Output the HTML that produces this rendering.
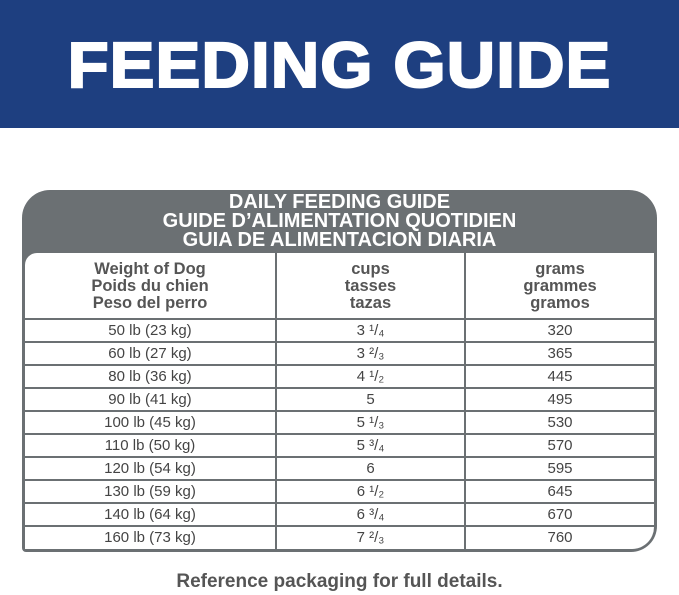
<!DOCTYPE html>
<html><head><style>
body{margin:0;width:679px;height:595px;background:#fff;position:relative;overflow:hidden;font-family:"Liberation Sans",Arial,sans-serif}
.hdr{position:absolute;left:0;top:0;width:679px;height:128px;background:#1e3f80}
.title{position:absolute;left:0;top:28px;width:679px;text-align:center;color:#fff;font-weight:900;font-size:64px;letter-spacing:1px;transform:scaleX(1.05);-webkit-text-stroke:2px #fff}
.box{position:absolute;left:22px;top:190px;width:635px;height:362px;background:#6b7073;border-radius:28px 28px 26px 4px}
.bt{position:absolute;left:0;width:635px;text-align:center;color:#fff;font-weight:bold;font-size:20px;line-height:19px}
.in{position:absolute;left:3px;top:63px;width:629px;height:296px;background:#fff;border-radius:12px 0 22px 0}
.v{position:absolute;top:0;width:2px;height:296px;background:#6b7073}
.h{position:absolute;left:0;width:629px;height:2px;background:#6b7073}
.c{position:absolute;text-align:center;color:#444;font-size:15px;line-height:23px}
.hd{position:absolute;text-align:center;color:#555;font-weight:bold;font-size:16.5px;line-height:17px}
.foot{position:absolute;left:0;top:571px;width:679px;text-align:center;color:#555;font-weight:bold;font-size:19px}
</style></head><body>
<div class="hdr"><div class="title">FEEDING GUIDE</div></div>
<div class="box">
<div class="bt" style="top:3px">DAILY FEEDING GUIDE</div>
<div class="bt" style="top:22px">GUIDE D’ALIMENTATION QUOTIDIEN</div>
<div class="bt" style="top:41px">GUIA DE ALIMENTACION DIARIA</div>
<div class="in">
<div class="v" style="left:250px"></div><div class="v" style="left:439px"></div>
<div class="hd" style="left:0;width:250px;top:8px">Weight of Dog<br>Poids du chien<br>Peso del perro</div>
<div class="hd" style="left:252px;width:187px;top:8px">cups<br>tasses<br>tazas</div>
<div class="hd" style="left:441px;width:188px;top:8px">grams<br>grammes<br>gramos</div>
<div id="rows"></div>
</div></div>
<div class="foot">Reference packaging for full details.</div>
<script>
var r=[["50 lb (23 kg)","3 ¹/₄","320"],["60 lb (27 kg)","3 ²/₃","365"],["80 lb (36 kg)","4 ¹/₂","445"],["90 lb (41 kg)","5","495"],["100 lb (45 kg)","5 ¹/₃","530"],["110 lb (50 kg)","5 ³/₄","570"],["120 lb (54 kg)","6","595"],["130 lb (59 kg)","6 ¹/₂","645"],["140 lb (64 kg)","6 ³/₄","670"],["160 lb (73 kg)","7 ²/₃","760"]];
var h="";
for(var i=0;i<r.length;i++){var y=65+i*23;
h+='<div class="h" style="top:'+(y)+'px"></div>';
h+='<div class="c" style="left:0;width:250px;top:'+(y+1)+'px">'+r[i][0]+'</div>';
h+='<div class="c" style="left:252px;width:187px;top:'+(y+1)+'px">'+r[i][1]+'</div>';
h+='<div class="c" style="left:441px;width:188px;top:'+(y+1)+'px">'+r[i][2]+'</div>';}
document.getElementById("rows").innerHTML=h;
</script>
</body></html>
